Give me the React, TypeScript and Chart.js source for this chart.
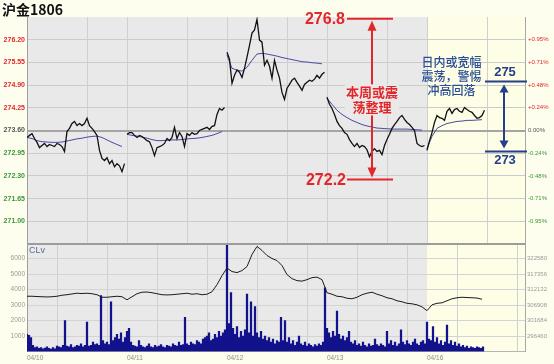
import React, { useEffect, useRef } from 'react';
import { Chart, registerables } from 'chart.js';

Chart.register(...registerables);

// ---------- data ----------
const title = '沪金1806';
const dayLabels = ['04/10', '04/11', '04/12', '04/13', '04/16'];
const daySpan = 100; // time units per trading day (night + day session)
const sessionBreaks = [0, 60, 100, 160, 200, 260, 300, 360, 400, 460];
const xMax = 498;
const currentDayStart = 400;

const priceStep = 2.5;
const price0410 = [273.40, 273.46, 273.51, 273.37, 273.26, 273.11, 273.17, 273.23, 273.14, 273.20, 273.17, 273.14, 273.23, 273.20, 273.14, 273.00, 273.57, 273.66, 273.80, 273.86, 273.74, 273.80, 273.74, 273.80, 273.95, 273.74, 273.66, 273.57, 273.46, 273.03, 272.80, 272.74, 272.82, 272.65, 272.74, 272.56, 272.65, 272.59, 272.42, 272.65];
const price0411 = [273.49, 273.54, 273.54, 273.46, 273.40, 273.46, 273.43, 273.37, 273.31, 273.28, 273.11, 272.88, 273.11, 273.14, 273.17, 273.23, 273.37, 273.31, 273.40, 273.69, 273.37, 273.54, 273.43, 273.14, 273.51, 273.46, 273.54, 273.49, 273.51, 273.60, 273.63, 273.66, 273.69, 273.63, 273.72, 273.74, 274.06, 274.23, 274.18, 274.26];
const price0412 = [275.84, 275.64, 274.95, 275.18, 275.33, 275.27, 275.12, 275.38, 275.70, 276.04, 276.39, 276.48, 276.78, 276.19, 276.13, 275.47, 275.61, 275.44, 275.10, 275.61, 275.33, 275.10, 274.69, 274.49, 274.81, 274.92, 275.04, 275.10, 274.98, 274.87, 274.75, 274.92, 274.98, 275.04, 275.01, 275.07, 275.18, 275.10, 275.21, 275.27];
const price0413 = [274.55, 274.35, 274.23, 274.06, 273.86, 273.74, 273.66, 273.54, 273.49, 273.34, 273.23, 273.14, 273.23, 273.11, 273.17, 273.14, 273.05, 272.85, 273.00, 273.08, 273.00, 273.03, 272.91, 273.17, 273.34, 273.49, 273.66, 273.77, 273.86, 273.97, 274.03, 273.92, 273.83, 273.77, 273.69, 273.60, 273.23, 273.17, 273.14, 273.17];
const price0416 = [273.03, 273.31, 273.54, 273.83, 274.03, 273.97, 273.95, 273.89, 274.15, 274.23, 274.09, 274.20, 274.23, 274.15, 274.12, 274.26, 274.20, 274.15, 274.12, 274.03, 273.95, 273.97, 274.03, 274.18];

const maStep = 5;
const ma0410 = [273.40, 273.37, 273.31, 273.28, 273.27, 273.26, 273.26, 273.27, 273.30, 273.33, 273.36, 273.38, 273.41, 273.43, 273.44, 273.40, 273.33, 273.26, 273.20, 273.14];
const ma0411 = [273.49, 273.46, 273.44, 273.41, 273.38, 273.34, 273.31, 273.31, 273.32, 273.33, 273.33, 273.34, 273.36, 273.37, 273.38, 273.40, 273.43, 273.46, 273.51, 273.57];
const ma0412 = [275.76, 275.38, 275.33, 275.30, 275.41, 275.61, 275.79, 275.81, 275.79, 275.76, 275.73, 275.69, 275.66, 275.63, 275.60, 275.57, 275.56, 275.54, 275.53, 275.51];
const ma0413 = [274.52, 274.35, 274.18, 274.06, 273.97, 273.89, 273.83, 273.77, 273.73, 273.70, 273.67, 273.66, 273.65, 273.64, 273.64, 273.64, 273.64, 273.63, 273.62, 273.61];
const ma0416 = [273.08, 273.43, 273.66, 273.74, 273.80, 273.83, 273.86, 273.87, 273.89, 273.89, 273.90, 273.91];

const volStep = 2;
const vol0410 = [1100, 1050, 900, 400, 250, 300, 200, 250, 180, 220, 300, 200, 150, 250, 180, 350, 300, 250, 400, 2000, 350, 300, 450, 250, 300, 400, 350, 500, 300, 400, 1900, 350, 400, 600, 450, 500, 400, 3600, 700, 500, 600, 450, 3200, 700, 900, 1100, 800, 1200, 600, 900];
const vol0411 = [1300, 1500, 600, 400, 350, 300, 700, 400, 300, 250, 350, 500, 300, 250, 400, 300, 350, 450, 300, 250, 400, 350, 300, 500, 400, 350, 600, 400, 450, 2200, 500, 400, 600, 500, 450, 700, 600, 500, 800, 900, 1000, 1200, 700, 800, 1100, 900, 1300, 1000, 1200, 1400];
const vol0412 = [6900, 1800, 3800, 1500, 1100, 1600, 900, 1300, 1000, 1400, 3700, 1200, 3200, 1000, 2900, 1200, 900, 1300, 800, 1000, 700, 900, 600, 800, 500, 700, 600, 2200, 700, 2000, 600, 900, 500, 700, 400, 600, 1000, 500, 400, 600, 350, 500, 400, 300, 450, 350, 500, 400, 600, 4100];
const vol0413 = [1500, 1200, 900, 1300, 1000, 2600, 1100, 800, 1000, 700, 900, 1300, 600, 500, 700, 400, 500, 350, 600, 400, 300, 500, 350, 400, 800, 450, 350, 500, 400, 300, 1300, 500, 700, 400, 600, 350, 500, 1400, 600, 450, 700, 500, 400, 600, 800, 500, 400, 600, 700, 500];
const vol0416 = [1900, 800, 700, 1600, 600, 900, 500, 700, 400, 600, 1700, 500, 700, 400, 600, 350, 500, 300, 400, 250, 350, 200, 300, 250, 200, 300, 250, 200, 300];

const oiStep = 5;
const openInterest = [309860, 309860, 309760, 309690, 309620, 309690, 309860, 310200, 310370, 310640, 310880, 310770, 310880, 310710, 310370, 309520, 309520, 309690, 309860, 309690,
  308670, 309690, 310710, 311220, 311280, 311050, 310710, 310370, 310300, 310370, 310540, 310710, 310880, 310540, 310710, 310370, 310540, 311380, 313760, 316810,
  319360, 318170, 317830, 318510, 319860, 323930, 326650, 325290, 323600, 322580, 321900, 320200, 317150, 315790, 315120, 314950, 315450, 316130, 316300, 315450,
  311050, 310540, 309860, 309690, 309180, 309010, 309520, 310370, 310880, 311220, 310540, 310030, 309350, 309010, 308330, 307990, 307480, 307310, 306970, 306290,
  305000, 306970, 307480, 307650, 308330, 309010, 309350, 309520, 309420, 309350, 309250, 308840];

const basePrice = 273.60;
const priceMin = 270.35;
const priceMax = 276.85;
const priceTicks = [271.00, 271.65, 272.30, 272.95, 273.60, 274.25, 274.90, 275.55, 276.20];
const volMax = 7000;
const volTicks = [1000, 2000, 3000, 4000, 5000, 6000];
const oiTicks = [296460, 301684, 306908, 312132, 317356, 322580];

const weekHigh = 276.8;
const weekLow = 272.2;
const dayHigh = 275;
const dayLow = 273;
const weekNote = ['本周或震', '荡整理'];
const dayNote = ['日内或宽幅', '震荡，警惕', '冲高回落'];

// ---------- styles ----------
const pageBg = '#fefeee';
const plotBg = '#e9e9e9';
const currentBg = '#fefde6';
const red = '#e3262a';
const green = '#3a973a';
const midGrey = '#555555';
const navy = '#23408a';
const cjk = "'Noto Sans CJK SC', sans-serif";

Chart.defaults.font.family = "'Liberation Sans', Arial, sans-serif";

type Pt = { x: number; y: number | null };

function buildSegments(days: number[][], step: number): Pt[] {
  const out: Pt[] = [];
  days.forEach((vals, d) => {
    vals.forEach((v, i) => out.push({ x: d * daySpan + i * step, y: v }));
    if (d < days.length - 1) out.push({ x: (d + 1) * daySpan - step / 2, y: null });
  });
  return out;
}

function buildContinuous(days: number[][], step: number): Pt[] {
  const out: Pt[] = [];
  days.forEach((vals, d) => vals.forEach((v, i) => out.push({ x: d * daySpan + i * step, y: v })));
  return out;
}

const priceData = buildSegments([price0410, price0411, price0412, price0413, price0416], priceStep);
const maData = buildSegments([ma0410, ma0411, ma0412, ma0413, ma0416], maStep);
const volData = buildContinuous([vol0410, vol0411, vol0412, vol0413, vol0416], volStep);
const oiData: Pt[] = openInterest.map((v, i) => ({ x: i * oiStep, y: v }));

const oiUnit = (oiTicks[1] - oiTicks[0]) / (volTicks[1] - volTicks[0]);
const oiMin = oiTicks[0] - volTicks[0] * oiUnit;
const oiMax = oiMin + volMax * oiUnit;

const noPad = (s: any) => {
  s.paddingTop = 0;
  s.paddingBottom = 0;
  s.paddingLeft = 0;
  s.paddingRight = 0;
};

const signColor = (ctx: any) => {
  const v = ctx.tick ? ctx.tick.value : basePrice;
  if (v > basePrice + 1e-6) return red;
  if (v < basePrice - 1e-6) return green;
  return midGrey;
};

const pctLabel = (v: any) => {
  const pct = ((Number(v) - basePrice) / basePrice) * 100;
  if (Math.abs(pct) < 0.001) return '0.00%';
  return (pct > 0 ? '+' : '') + pct.toFixed(2) + '%';
};

function vArrow(ctx: CanvasRenderingContext2D, x: number, yA: number, yB: number, color: string, lw: number, head: number, hw: number) {
  ctx.strokeStyle = color;
  ctx.fillStyle = color;
  ctx.lineWidth = lw;
  ctx.beginPath();
  ctx.moveTo(x, yA + head - 1);
  ctx.lineTo(x, yB - head + 1);
  ctx.stroke();
  ctx.beginPath();
  ctx.moveTo(x, yA);
  ctx.lineTo(x - hw, yA + head);
  ctx.lineTo(x + hw, yA + head);
  ctx.closePath();
  ctx.fill();
  ctx.beginPath();
  ctx.moveTo(x, yB);
  ctx.lineTo(x - hw, yB - head);
  ctx.lineTo(x + hw, yB - head);
  ctx.closePath();
  ctx.fill();
}

const backgroundPlugin = {
  id: 'panelBg',
  beforeDraw(chart: any) {
    const { ctx, chartArea: a, scales } = chart;
    ctx.save();
    ctx.fillStyle = pageBg;
    ctx.fillRect(0, 0, chart.width, chart.height);
    ctx.fillStyle = plotBg;
    ctx.fillRect(a.left, a.top, a.right - a.left, a.bottom - a.top);
    const cx = scales.x.getPixelForValue(currentDayStart);
    ctx.fillStyle = currentBg;
    ctx.fillRect(cx, a.top, a.right - cx, a.bottom - a.top);
    ctx.restore();
  },
};

const topAnnotations = {
  id: 'topNotes',
  afterDatasetsDraw(chart: any) {
    const { ctx, chartArea: a, scales } = chart;
    const x = scales.x;
    const y = scales.y;
    ctx.save();
    // weekly range (red)
    const yH = y.getPixelForValue(weekHigh);
    const yL = y.getPixelForValue(weekLow);
    const lx0 = x.getPixelForValue(320);
    const lx1 = x.getPixelForValue(366);
    const ax = x.getPixelForValue(345);
    ctx.strokeStyle = red;
    ctx.lineWidth = 2;
    ctx.beginPath();
    ctx.moveTo(lx0, yH); ctx.lineTo(lx1, yH);
    ctx.moveTo(lx0, yL); ctx.lineTo(lx1, yL);
    ctx.stroke();
    vArrow(ctx, ax, yH + 2, yL - 2, red, 2, 10, 4.5);
    ctx.font = 'bold 16px "Liberation Sans", Arial, sans-serif';
    ctx.fillStyle = red;
    ctx.textAlign = 'right';
    ctx.textBaseline = 'middle';
    ctx.fillText(weekHigh.toFixed(1), lx0 - 2, yH + 1);
    ctx.fillText(weekLow.toFixed(1), lx0 - 1, yL + 1);
    // weekly note
    const ny = y.getPixelForValue(274.49);
    ctx.fillStyle = plotBg;
    ctx.fillRect(ax - 27, ny - 15, 54, 31);
    ctx.font = `bold 13px ${cjk}`;
    ctx.fillStyle = red;
    ctx.textAlign = 'center';
    ctx.fillText(weekNote[0], ax, ny - 7);
    ctx.fillText(weekNote[1], ax, ny + 8);

    // daily range (blue)
    const yDH = y.getPixelForValue(dayHigh);
    const yDL = y.getPixelForValue(dayLow);
    const bx0 = x.getPixelForValue(458);
    const bx1 = a.right + 2;
    const bax = x.getPixelForValue(477);
    ctx.strokeStyle = navy;
    ctx.lineWidth = 2;
    ctx.beginPath();
    ctx.moveTo(bx0, yDH); ctx.lineTo(bx1, yDH);
    ctx.moveTo(bx0, yDL); ctx.lineTo(bx1, yDL);
    ctx.stroke();
    vArrow(ctx, bax, yDH + 3, yDL - 3, navy, 2, 8, 4.5);
    ctx.font = 'bold 13px "Liberation Sans", Arial, sans-serif';
    ctx.fillStyle = navy;
    ctx.textAlign = 'center';
    ctx.fillText(String(dayHigh), bax + 1, yDH - 9);
    ctx.fillText(String(dayLow), bax + 1, yDL + 9);
    // daily note
    const dnx = x.getPixelForValue(424.5);
    const dny = y.getPixelForValue(275.16);
    ctx.font = `500 12px ${cjk}`;
    ctx.fillStyle = '#2a4f96';
    ctx.fillText(dayNote[0], dnx, dny - 14);
    ctx.fillText(dayNote[1], dnx, dny);
    ctx.fillText(dayNote[2], dnx, dny + 14);
    ctx.restore();
  },
  afterDraw(chart: any) {
    const { ctx } = chart;
    ctx.save();
    ctx.font = `bold 14px ${cjk}`;
    ctx.fillStyle = '#111111';
    ctx.textAlign = 'left';
    ctx.textBaseline = 'middle';
    ctx.fillText(title, 2, 9.5);
    ctx.restore();
  },
};

const bottomDecor = {
  id: 'bottomDecor',
  afterDraw(chart: any) {
    const { ctx, chartArea: a } = chart;
    ctx.save();
    ctx.strokeStyle = '#9c9c9c';
    ctx.lineWidth = 2;
    ctx.beginPath();
    ctx.moveTo(a.left, a.top + 1);
    ctx.lineTo(a.right, a.top + 1);
    ctx.stroke();
    ctx.font = '9px "Liberation Sans", Arial, sans-serif';
    ctx.fillStyle = '#5a6aa0';
    ctx.textAlign = 'left';
    ctx.textBaseline = 'top';
    ctx.fillText('CLv', a.left + 2, a.top + 3);
    ctx.restore();
  },
};

const breakTicks = (s: any) => {
  s.ticks = sessionBreaks.map((v) => ({ value: v }));
};

export default function App() {
  const topRef = useRef<HTMLCanvasElement>(null);
  const botRef = useRef<HTMLCanvasElement>(null);

  useEffect(() => {
    const top = new Chart(topRef.current as HTMLCanvasElement, {
      type: 'line',
      data: {
        datasets: [
          { data: maData as any, borderColor: '#4a4aa8', borderWidth: 1, pointRadius: 0, tension: 0, order: 2 },
          { data: priceData as any, borderColor: '#111111', borderWidth: 1.3, pointRadius: 0, tension: 0, order: 1 },
        ],
      },
      options: {
        animation: false,
        responsive: false,
        devicePixelRatio: 1,
        events: [],
        layout: { padding: { top: 17, left: 0, right: 0, bottom: 0 } },
        plugins: { legend: { display: false }, tooltip: { enabled: false } },
        scales: {
          x: {
            type: 'linear', min: 0, max: xMax,
            afterBuildTicks: breakTicks,
            afterFit: (s: any) => { s.height = 0; noPad(s); },
            ticks: { display: false },
            grid: { color: '#d0d0d0', lineWidth: 1, drawTicks: false },
            border: { display: false },
          },
          y: {
            position: 'left', min: priceMin, max: priceMax,
            afterBuildTicks: (s: any) => { s.ticks = priceTicks.map((v) => ({ value: v })); },
            afterFit: (s: any) => { s.width = 27; noPad(s); },
            ticks: { autoSkip: false, padding: 2, font: { size: 7, weight: 'bold' }, color: signColor as any, callback: (v: any) => Number(v).toFixed(2) },
            grid: {
              drawTicks: false,
              color: (c: any) => (Math.abs(c.tick.value - basePrice) < 1e-6 ? '#a5a5a5' : '#cccccc'),
              lineWidth: (c: any) => (Math.abs(c.tick.value - basePrice) < 1e-6 ? 2 : 1),
            },
            border: { color: '#9f9f9f' },
          },
          yPct: {
            position: 'right', min: priceMin, max: priceMax,
            afterBuildTicks: (s: any) => { s.ticks = priceTicks.map((v) => ({ value: v })); },
            afterFit: (s: any) => { s.width = 29; noPad(s); },
            ticks: { autoSkip: false, padding: 3, font: { size: 6 }, color: signColor as any, callback: pctLabel },
            grid: { display: false, drawTicks: false },
            border: { color: '#a8a8a8' },
          },
        },
      },
      plugins: [backgroundPlugin, topAnnotations],
    } as any);

    const bottom = new Chart(botRef.current as HTMLCanvasElement, {
      type: 'bar',
      data: {
        datasets: [
          { type: 'line', data: oiData as any, yAxisID: 'yOI', borderColor: '#1c1c1c', borderWidth: 1, pointRadius: 0, tension: 0, order: 1 },
          { type: 'bar', data: volData as any, yAxisID: 'yVol', backgroundColor: '#12128c', barThickness: 1.6, order: 2 },
        ],
      },
      options: {
        animation: false,
        responsive: false,
        devicePixelRatio: 1,
        events: [],
        layout: { padding: { top: 0, left: 0, right: 0, bottom: 0 } },
        plugins: { legend: { display: false }, tooltip: { enabled: false } },
        scales: {
          x: {
            type: 'linear', min: 0, max: xMax, offset: false,
            afterBuildTicks: breakTicks,
            afterFit: (s: any) => { s.height = 12.5; noPad(s); },
            ticks: {
              autoSkip: false, maxRotation: 0, align: 'start', padding: 3,
              font: { size: 6.5 }, color: '#8c8c8c',
              callback: (v: any) => {
                const n = Number(v);
                return n % daySpan === 0 ? dayLabels[n / daySpan] ?? '' : '';
              },
            },
            grid: { color: '#d0d0d0', lineWidth: 1, drawTicks: false },
            border: { color: '#b5b5b5' },
          },
          yVol: {
            position: 'left', min: 0, max: volMax,
            afterBuildTicks: (s: any) => { s.ticks = volTicks.map((v) => ({ value: v })); },
            afterFit: (s: any) => { s.width = 27; noPad(s); },
            ticks: { autoSkip: false, padding: 2, font: { size: 6.5 }, color: '#9a9a9a', callback: (v: any) => String(Math.round(Number(v))) },
            grid: { color: '#d4d4d4', drawTicks: false },
            border: { color: '#9f9f9f' },
          },
          yOI: {
            position: 'right', min: oiMin, max: oiMax,
            afterBuildTicks: (s: any) => { s.ticks = oiTicks.map((v) => ({ value: v })); },
            afterFit: (s: any) => { s.width = 29; noPad(s); },
            ticks: { autoSkip: false, padding: 2, font: { size: 6 }, color: '#9a9a9a', callback: (v: any) => String(Math.round(Number(v))) },
            grid: { display: false, drawTicks: false },
            border: { color: '#a8a8a8' },
          },
        },
      },
      plugins: [backgroundPlugin, bottomDecor],
    } as any);

    return () => {
      top.destroy();
      bottom.destroy();
    };
  }, []);

  return (
    <div style={{ position: 'absolute', left: 0, top: 0, width: 554, height: 364, background: pageBg, overflow: 'hidden' }}>
      <canvas ref={topRef} width={554} height={244} style={{ position: 'absolute', left: 0, top: 0, width: 554, height: 244 }} />
      <canvas ref={botRef} width={554} height={121} style={{ position: 'absolute', left: 0, top: 243, width: 554, height: 121 }} />
    </div>
  );
}
